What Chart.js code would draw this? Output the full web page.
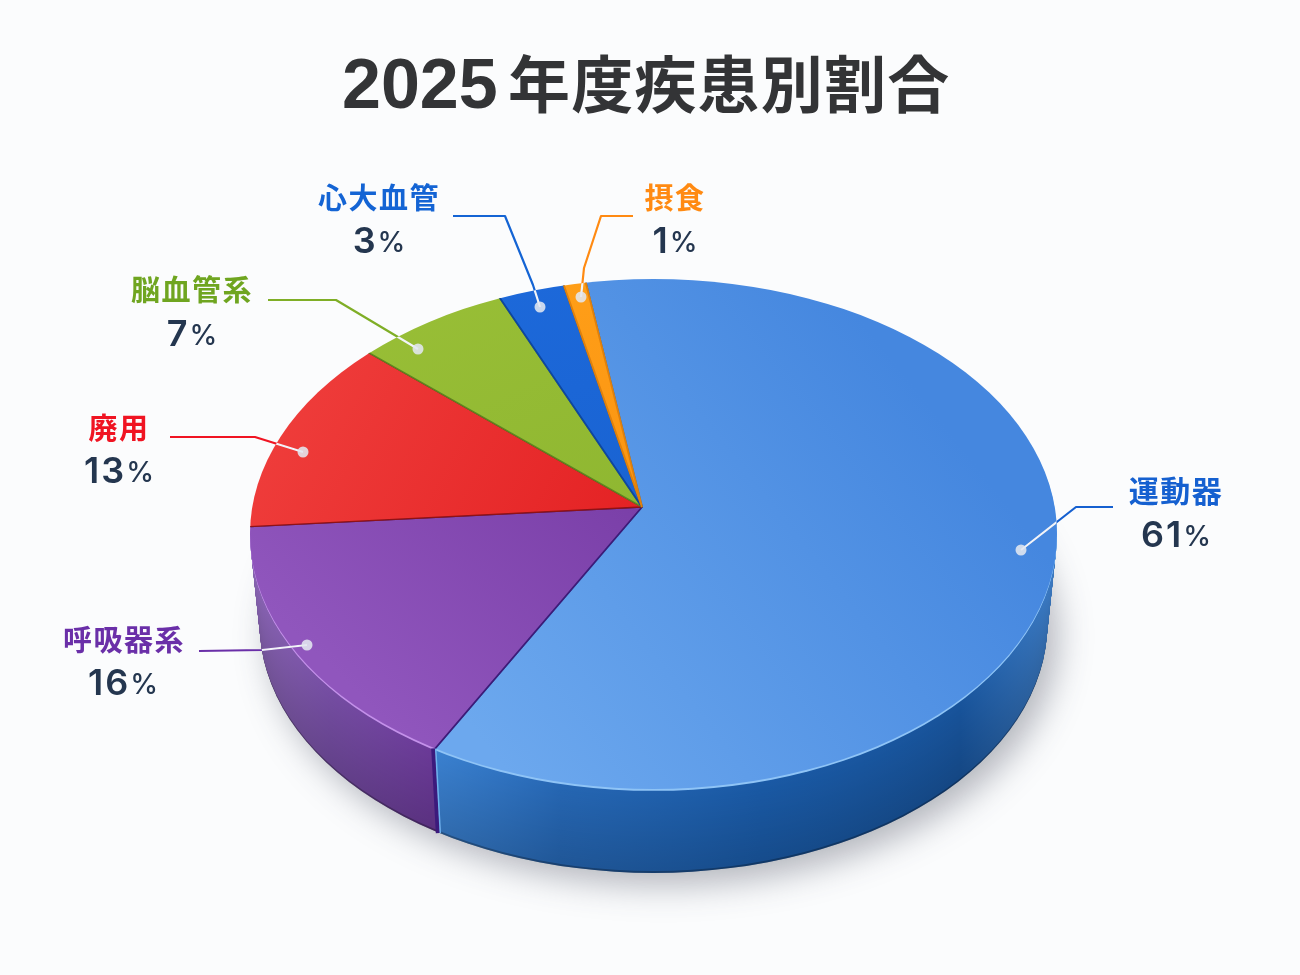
<!DOCTYPE html>
<html lang="ja">
<head>
<meta charset="utf-8">
<title>2025年度疾患別割合</title>
<script src="https://cdn.jsdelivr.net/npm/chart.js@4/dist/chart.umd.min.js"></script>
<style>
  html, body { margin: 0; padding: 0; background: #fbfcfd; }
  canvas { display: block; }
</style>
</head>
<body>
<canvas id="pie" width="1300" height="975"></canvas>
<script>
const titleYear = '2025';
const titleRest = '年度疾患別割合';
const categories = ['運動器', '呼吸器系', '廃用', '脳血管系', '心大血管', '摂食'];
const values = [61, 16, 13, 7, 3, 1];

// colours per slice
const labelColors = ['#1560d0', '#6a2fa8', '#f01422', '#6fa520', '#1464d4', '#ff8a12'];
const lineColors = ['#1560d0', '#6a2fa8', '#f01422', '#7fae26', '#1464d4', '#ff8a12'];
const faceColors = [
  ['#6ca8ee', '#4587df'], ['#9056bd', '#7a3fa8'], ['#ef3d3b', '#e42224'],
  ['#98be36', '#8fb731'], ['#1d69da', '#1963d2'], ['#ff9f18', '#fb9512']
];
const edgeColors = ['#2f64ad', '#3d1b78', '#8f1216', '#5f8420', '#0e479f', '#e0810c'];
const rimColors = ['#8fc4f6', '#c491ea'];
const wallStops = [
  [[424, '#3d84d4'], [560, '#2667b4'], [760, '#1a5aa6'], [960, '#18549c'], [1052, '#3c7bc4']],
  [[250, '#8a66b4'], [330, '#764ea4'], [430, '#6b3a98']]
];

// where the disc sits on the page
const AX = 642, AY = 507;           // apex of the slices
const EX = 653.5, EY = 534;         // centre of the top ellipse
const RX = 403.5, RY = 255;
const K = RY / RX;
const DEPTH = 90, SHRINK = 0.024;

// label text centres and leader lines
const labelPos = [[1176, 491], [124, 640], [119, 428], [192, 290], [379, 198], [675, 198]];
const labelSize = [30, 29, 29, 29, 29, 29];
const pctPos = [[1176, 536], [123, 684], [119, 472], [192, 335], [379, 242], [675, 242]];
const leaders = [
  [[1113, 507], [1076, 507], [1021, 550]],
  [[199, 651], [262, 650], [307, 645]],
  [[170, 437], [255, 437], [303, 452]],
  [[268, 300], [336, 300], [418, 349]],
  [[453, 216], [505, 216], [533, 285], [540, 307]],
  [[633, 216], [601, 216], [584, 268], [581, 297]]
];

function layerAt(d) {
  const s = 1 - SHRINK * d / DEPTH;
  return { cy: EY + d, rx: RX * s, ry: RY * s, ay: AY + d };
}

function shade(hex, f) {
  const n = parseInt(hex.slice(1), 16);
  const c = [n >> 16, (n >> 8) & 255, n & 255].map(v => Math.round(v * f));
  return `rgb(${c[0]},${c[1]},${c[2]})`;
}

function ellipsePath(ctx, l) {
  ctx.beginPath();
  ctx.ellipse(EX, l.cy, l.rx, l.ry, 0, 0, Math.PI * 2);
}

// draws one arc element of the chart squashed onto a layer of the disc
function drawArc(ctx, arc, l, fill, border, width) {
  const saved = arc.options;
  arc.options = Object.assign({}, saved, { backgroundColor: fill, borderColor: border, borderWidth: width });
  ctx.save();
  ctx.translate(AX, l.ay);
  ctx.scale(1, K);
  ctx.translate(-arc.x, -arc.y);
  arc.draw(ctx);
  ctx.restore();
  arc.options = saved;
}

// point where a slice edge meets the rim of a layer
function rimPoint(angle, l) {
  const dx = Math.cos(angle), dy = Math.sin(angle) * K;
  const ox = (AX - EX) / l.rx, oy = (l.ay - l.cy) / l.ry;
  const vx = dx / l.rx, vy = dy / l.ry;
  const a = vx * vx + vy * vy, b = 2 * (ox * vx + oy * vy), c = ox * ox + oy * oy - 1;
  const u = (-b + Math.sqrt(b * b - 4 * a * c)) / (2 * a);
  return [AX + dx * u, l.ay + dy * u];
}

const pie3d = {
  id: 'pie3d',
  beforeDraw(chart) {
    const ctx = chart.ctx;
    ctx.fillStyle = '#fbfcfd';
    ctx.fillRect(0, 0, chart.width, chart.height);
  },
  beforeDatasetsDraw(chart) {
    const ctx = chart.ctx;
    const arcs = chart.getDatasetMeta(0).data;
    const bottom = layerAt(DEPTH);

    // ground shadow
    ctx.save();
    ctx.fillStyle = '#8a8f9c';
    ctx.shadowColor = 'rgba(60,66,84,0.38)';
    ctx.shadowBlur = 34;
    ctx.shadowOffsetX = 10;
    ctx.shadowOffsetY = 12;
    ellipsePath(ctx, bottom);
    ctx.fill();
    ctx.restore();

    // side wall, stacked from the bottom up
    for (let d = DEPTH; d >= 1; d--) {
      const l = layerAt(d);
      const t = d / DEPTH;
      ctx.save();
      ellipsePath(ctx, l);
      ctx.clip();
      wallStops.forEach((stops, i) => {
        const arc = arcs[i];
        let fill;
        if (d <= 2) {
          fill = rimColors[i];
        } else {
          const f = d >= DEPTH - 1 ? 0.62 : 1 - 0.16 * t;
          fill = ctx.createLinearGradient(stops[0][0] - AX + arc.x, 0, stops[stops.length - 1][0] - AX + arc.x, 0);
          const span = stops[stops.length - 1][0] - stops[0][0];
          stops.forEach(s => fill.addColorStop((s[0] - stops[0][0]) / span, shade(s[1], f)));
        }
        drawArc(ctx, arc, l, fill, fill, 0);
      });
      ctx.restore();
    }

    // seam between the two visible walls
    const seamAngle = arcs[1].startAngle;
    const seamTop = rimPoint(seamAngle, layerAt(0));
    const seamBottom = rimPoint(seamAngle, bottom);
    ctx.save();
    ctx.lineCap = 'butt';
    ctx.strokeStyle = '#3c1a7c';
    ctx.lineWidth = 4;
    ctx.beginPath();
    ctx.moveTo(seamTop[0] - 2, seamTop[1]);
    ctx.lineTo(seamBottom[0] - 2, seamBottom[1]);
    ctx.stroke();
    ctx.strokeStyle = '#6fb2ee';
    ctx.lineWidth = 1.5;
    ctx.beginPath();
    ctx.moveTo(seamTop[0] + 0.5, seamTop[1]);
    ctx.lineTo(seamBottom[0] + 0.5, seamBottom[1]);
    ctx.stroke();
    ctx.restore();

    // top face
    const top = layerAt(0);
    ctx.save();
    ellipsePath(ctx, top);
    ctx.clip();
    arcs.forEach((arc, i) => {
      const mid = (arc.startAngle + arc.endAngle) / 2;
      let fill;
      if (i === 0) {
        // blue is lit from the lower left
        const toX = x => x - AX + arc.x, toY = y => (y - AY) / K + arc.y;
        fill = ctx.createLinearGradient(toX(450), toY(700), toX(1020), toY(520));
      } else {
        // the rest darken towards the apex
        fill = ctx.createLinearGradient(arc.x + Math.cos(mid) * 400, arc.y + Math.sin(mid) * 400, arc.x, arc.y);
      }
      fill.addColorStop(0, faceColors[i][0]);
      fill.addColorStop(1, faceColors[i][1]);
      drawArc(ctx, arc, top, fill, edgeColors[i], 2);
    });
    ctx.restore();
    return false;
  },
  afterDraw(chart) {
    const ctx = chart.ctx;
    const CJK = '"Noto Sans CJK JP"';
    ctx.save();

    // title: latin digits followed by the kanji
    ctx.textAlign = 'left';
    ctx.fillStyle = '#333436';
    ctx.textBaseline = 'alphabetic';
    ctx.font = 'bold 70px "Liberation Sans"';
    ctx.fillText(titleYear, 342, 108);
    ctx.textBaseline = 'middle';
    ctx.font = `bold 62px ${CJK}`;
    ctx.letterSpacing = '1.2px';
    ctx.fillText(titleRest, 508, 84);
    ctx.letterSpacing = '0px';

    // leaders: coloured outside the pie, white on top of it
    const top = layerAt(0), bottom = layerAt(DEPTH);
    const strokeLeader = pts => {
      ctx.beginPath();
      pts.forEach((p, n) => n ? ctx.lineTo(p[0], p[1]) : ctx.moveTo(p[0], p[1]));
      ctx.stroke();
    };
    ctx.lineWidth = 2.2;
    ctx.lineJoin = 'round';
    leaders.forEach((pts, i) => {
      ctx.strokeStyle = lineColors[i];
      strokeLeader(pts);
      ctx.save();
      ctx.beginPath();
      ctx.ellipse(EX, top.cy, top.rx, top.ry, 0, 0, Math.PI * 2);
      ctx.ellipse(EX, bottom.cy, bottom.rx, bottom.ry, 0, 0, Math.PI * 2);
      ctx.clip();
      ctx.strokeStyle = '#f2f4f8';
      strokeLeader(pts);
      ctx.restore();
      const dot = pts[pts.length - 1];
      ctx.fillStyle = 'rgba(226,231,240,0.88)';
      ctx.beginPath();
      ctx.arc(dot[0], dot[1], 5.5, 0, Math.PI * 2);
      ctx.fill();
    });

    // category names and percentages
    categories.forEach((name, i) => {
      ctx.textAlign = 'center';
      ctx.fillStyle = labelColors[i];
      ctx.font = `bold ${labelSize[i]}px ${CJK}`;
      ctx.letterSpacing = '1.5px';
      ctx.fillText(name, labelPos[i][0], labelPos[i][1]);

      const num = String(values[i]);
      ctx.fillStyle = '#24364f';
      ctx.font = '600 36px Inter';
      ctx.letterSpacing = '2px';
      const numW = ctx.measureText(num).width;
      ctx.letterSpacing = '0px';
      ctx.font = '500 28px Inter';
      const pctW = ctx.measureText('%').width;
      const x0 = pctPos[i][0] - (numW + pctW) / 2;
      ctx.textAlign = 'left';
      ctx.fillText('%', x0 + numW, pctPos[i][1] + 2);
      ctx.font = '600 36px Inter';
      ctx.letterSpacing = '2px';
      ctx.fillText(num, x0, pctPos[i][1]);
      ctx.letterSpacing = '0px';
    });
    ctx.restore();
  }
};

new Chart(document.getElementById('pie'), {
  type: 'pie',
  data: {
    labels: categories,
    datasets: [{ data: values, borderWidth: 0 }]
  },
  options: {
    responsive: false,
    animation: false,
    rotation: -9,
    radius: 620,
    events: [],
    plugins: { legend: { display: false }, tooltip: { enabled: false } }
  },
  plugins: [pie3d]
});
</script>
</body>
</html>
